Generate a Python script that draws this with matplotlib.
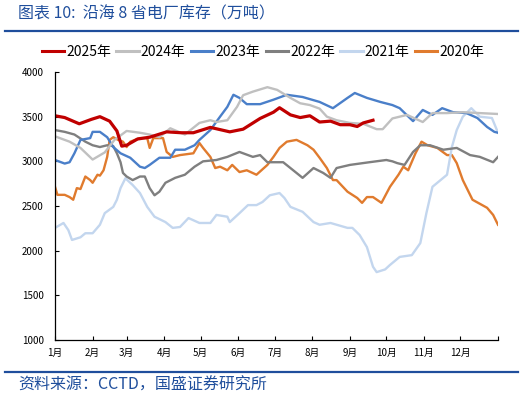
import numpy as np
import matplotlib as mpl
import matplotlib.pyplot as plt
from matplotlib.lines import Line2D

plt.rcParams["font.family"] = ["Noto Sans CJK SC", "DejaVu Sans"]

# ── Data: day of year -> stock (万吨) ────────────────────────────────────────
days_2025 = [0, 8, 20, 30, 37, 45, 51, 55, 59, 68, 78, 92, 104, 114, 128, 144,
             155, 169, 180, 185, 194, 202, 210, 218, 227, 235, 243, 249, 254, 262]
vals_2025 = [3510, 3490, 3420, 3470, 3500, 3450, 3340, 3170, 3180, 3250, 3270,
             3330, 3320, 3320, 3380, 3330, 3360, 3480, 3550, 3600, 3520, 3490,
             3510, 3440, 3450, 3410, 3410, 3390, 3430, 3460]

days_2024 = [0, 12, 21, 31, 41, 49, 59, 70, 78, 86, 95, 107, 119, 128, 133, 142,
             150, 155, 163, 175, 183, 194, 202, 210, 218, 224, 232, 243, 254, 265,
             270, 278, 290, 303, 311, 323, 336, 350, 365]
vals_2024 = [3280, 3220, 3150, 3020, 3100, 3240, 3340, 3320, 3300, 3270, 3370,
             3300, 3430, 3460, 3440, 3460, 3610, 3740, 3780, 3830, 3800, 3710,
             3650, 3630, 3590, 3500, 3460, 3430, 3420, 3360, 3360, 3480, 3520,
             3440, 3540, 3540, 3550, 3540, 3530]

days_2023 = [0, 8, 12, 16, 21, 29, 31, 37, 43, 48, 54, 62, 70, 74, 78, 86, 95,
             99, 107, 115, 119, 128, 136, 142, 147, 152, 158, 169, 180, 191, 204,
             218, 229, 241, 247, 257, 268, 278, 284, 295, 303, 311, 319, 328, 339,
             348, 356, 362, 365]
vals_2023 = [3015, 2975, 2990, 3090, 3240, 3260, 3330, 3330, 3270, 3160, 3090,
             3040, 2940, 2925, 2960, 3040, 3040, 3130, 3130, 3180, 3240, 3350,
             3500, 3610, 3745, 3710, 3640, 3640, 3690, 3745, 3720, 3665, 3595,
             3710, 3765, 3710, 3665, 3630, 3595, 3450, 3575, 3520, 3595, 3550,
             3540, 3485, 3385, 3330, 3320]

days_2022 = [0, 8, 16, 25, 31, 37, 43, 48, 51, 54, 56, 59, 64, 70, 74, 78, 82,
             86, 91, 99, 107, 115, 122, 133, 142, 152, 163, 169, 175, 183, 188,
             199, 204, 213, 221, 227, 232, 243, 259, 273, 278, 282, 288, 295, 301,
             309, 320, 331, 342, 350, 361, 365]
vals_2022 = [3350, 3330, 3300, 3220, 3180, 3160, 3180, 3170, 3090, 2990, 2870,
             2830, 2790, 2830, 2830, 2700, 2620, 2660, 2760, 2815, 2850, 2940,
             3000, 3015, 3050, 3105, 3050, 3070, 2990, 2990, 2990, 2870, 2815,
             2925, 2870, 2815, 2925, 2960, 2990, 3015, 3000, 2980, 2960, 3105,
             3180, 3180, 3130, 3150, 3070, 3050, 2990, 3050]

days_2021 = [0, 7, 11, 14, 21, 25, 31, 37, 41, 48, 51, 54, 58, 64, 70, 76, 82,
             91, 97, 103, 110, 119, 128, 133, 142, 144, 152, 159, 166, 171, 177,
             185, 189, 194, 204, 213, 218, 227, 241, 245, 251, 257, 262, 265, 272,
             276, 284, 294, 301, 306, 311, 323, 327, 331, 336, 343, 350, 360, 365]
vals_2021 = [2255, 2310, 2230, 2120, 2150, 2195, 2195, 2290, 2420, 2490, 2570,
             2700, 2810, 2735, 2645, 2490, 2380, 2320, 2255, 2265, 2365, 2310,
             2310, 2400, 2380, 2320, 2420, 2510, 2510, 2545, 2620, 2645, 2590,
             2490, 2435, 2320, 2290, 2310, 2255, 2255, 2175, 2040, 1820, 1760,
             1790, 1840, 1930, 1950, 2085, 2420, 2715, 2850, 3160, 3350, 3500,
             3595, 3500, 3485, 3320]

days_2020 = [0, 2, 8, 12, 15, 18, 21, 25, 29, 31, 35, 37, 40, 43, 45, 48, 52,
             56, 59, 62, 66, 70, 76, 78, 81, 89, 92, 97, 103, 114, 119, 122, 128,
             132, 136, 142, 146, 152, 158, 166, 175, 180, 185, 191, 199, 208, 213,
             218, 224, 229, 232, 241, 249, 253, 257, 262, 269, 276, 283, 287, 291,
             297, 302, 307, 315, 323, 327, 331, 336, 344, 356, 361, 365]
vals_2020 = [2715, 2625, 2625, 2600, 2570, 2700, 2690, 2830, 2790, 2760, 2850,
             2840, 2900, 3050, 3240, 3270, 3240, 3220, 3160, 3220, 3240, 3260,
             3260, 3150, 3260, 3260, 3105, 3050, 3070, 3090, 3205, 3150, 3050,
             2925, 2940, 2900, 2960, 2880, 2900, 2850, 2960, 3050, 3150, 3220,
             3240, 3180, 3130, 3040, 2925, 2790, 2790, 2660, 2590, 2535, 2600,
             2600, 2535, 2715, 2850, 2940, 2900, 3090, 3220, 3180, 3150, 3070,
             3070, 2980, 2790, 2570, 2480, 2400, 2290]

month_starts = [0, 31, 59, 90, 120, 151, 181, 212, 243, 273, 304, 334, 365]
month_labels = ["1月", "2月", "3月", "4月", "5月", "6月", "7月", "8月", "9月",
                "10月", "11月", "12月", ""]
y_ticks = [1000, 1500, 2000, 2500, 3000, 3500, 4000]

BLUE = "#1F4E9C"

# drawing order: older years underneath
series = [
    ("2020年", days_2020, vals_2020, "#E07B2E", 1.7),
    ("2021年", days_2021, vals_2021, "#C3D6EE", 1.7),
    ("2022年", days_2022, vals_2022, "#7F7F7F", 1.7),
    ("2023年", days_2023, vals_2023, "#4A7FC9", 1.7),
    ("2024年", days_2024, vals_2024, "#C0C0C0", 1.7),
    ("2025年", days_2025, vals_2025, "#C00000", 2.3),
]

fig = plt.figure(figsize=(5.26, 3.98), dpi=100)
ax = fig.add_axes([55 / 526, 1 - 340 / 398, 443 / 526, 268 / 398])

for name, d, v, c, lw in series:
    ax.plot(d, v, color=c, lw=lw, solid_joinstyle="round")

ax.set_xlim(0, 365)
ax.set_ylim(1000, 4000)
ax.set_xticks(month_starts)
ax.set_xticklabels(month_labels)
ax.set_yticks(y_ticks)
ax.tick_params(axis="both", direction="in", length=3, width=0.8,
               labelsize=7, colors="black")
ax.tick_params(axis="x", pad=6)
ax.tick_params(axis="y", pad=8)
for s in ("top", "right"):
    ax.spines[s].set_visible(False)
for s in ("left", "bottom"):
    ax.spines[s].set_linewidth(0.9)

# legend in 2025 -> 2020 order
handles = [Line2D([], [], color=c, lw=2.2) for _, _, _, c, _ in series[::-1]]
labels = [n for n, *_ in series[::-1]]
fig.legend(handles, labels, loc="center", bbox_to_anchor=(0.5, 1 - 52 / 398),
           ncol=6, frameon=False, fontsize=10, handlelength=1.6,
           handletextpad=0.15, columnspacing=0.4, borderaxespad=0)

# title, rules and source
fig.text(18 / 526, 1 - 14 / 398, "图表 10:  沿海 8 省电厂库存（万吨）",
         color=BLUE, fontsize=11.5, style="italic", va="center", ha="left")
fig.add_artist(Line2D([5 / 526, 518 / 526], [1 - 31 / 398] * 2,
                      color=BLUE, lw=1.6))
fig.add_artist(Line2D([5 / 526, 518 / 526], [1 - 372 / 398] * 2,
                      color=BLUE, lw=1.6))
fig.text(18 / 526, 1 - 385 / 398, "资料来源：CCTD，国盛证券研究所",
         color=BLUE, fontsize=11.5, style="italic", va="center", ha="left")

fig.savefig("out.png", dpi=100)
